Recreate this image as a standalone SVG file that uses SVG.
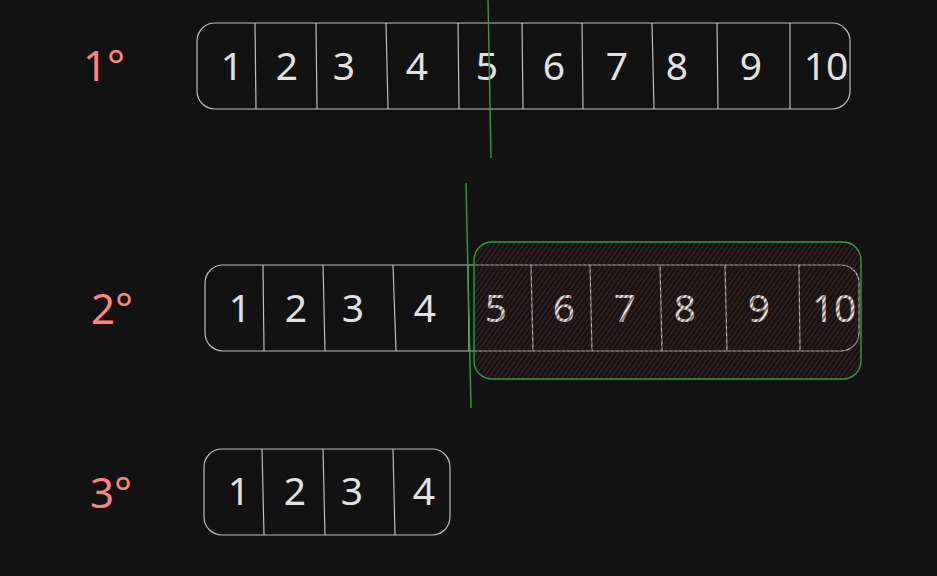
<svg xmlns="http://www.w3.org/2000/svg" width="937" height="576" viewBox="0 0 937 576">
<defs>
<pattern id="hatch" patternUnits="userSpaceOnUse" width="4" height="4" patternTransform="rotate(35)">
<line x1="1" y1="0" x2="1" y2="4" stroke="#4a2222" stroke-width="1.4" stroke-opacity="0.8"/>
</pattern>
<style>
.box{fill:none;stroke:#bdbdbd;stroke-width:1.2}
.div{stroke:#bdbdbd;stroke-width:1.2}
.num{font-family:"Noto Sans","Open Sans",sans-serif;font-size:39px;fill:#e2e2e2;text-anchor:middle}
.lbl{font-family:"Noto Sans","Open Sans",sans-serif;font-size:42px;fill:#ff8383;text-anchor:middle}
.cut{stroke:#2f9e44;stroke-width:1.4;fill:none}
</style>
</defs>
<rect width="937" height="576" fill="#121212"/>

<g id="label-1"><text class="lbl" x="104" y="81">1°</text></g>
<g id="label-2"><text class="lbl" x="112" y="324">2°</text></g>
<g id="label-3"><text class="lbl" x="111" y="508">3°</text></g>

<g id="row-1">
<rect class="box" x="197" y="23" width="653" height="86" rx="18"/>
<line class="div" x1="255" y1="23" x2="256" y2="109"/>
<line class="div" x1="316" y1="23" x2="317" y2="109"/>
<line class="div" x1="386" y1="23" x2="388" y2="109"/>
<line class="div" x1="458" y1="23" x2="459" y2="109"/>
<line class="div" x1="522" y1="23" x2="523" y2="109"/>
<line class="div" x1="582" y1="23" x2="583" y2="109"/>
<line class="div" x1="652" y1="23" x2="654" y2="109"/>
<line class="div" x1="717" y1="23" x2="718" y2="109"/>
<line class="div" x1="790" y1="23" x2="790" y2="109"/>
<text class="num" x="232" y="80">1</text>
<text class="num" x="287" y="80">2</text>
<text class="num" x="344" y="80">3</text>
<text class="num" x="417" y="80">4</text>
<text class="num" x="487" y="80">5</text>
<text class="num" x="554" y="80">6</text>
<text class="num" x="617" y="80">7</text>
<text class="num" x="677" y="80">8</text>
<text class="num" x="751" y="80">9</text>
<text class="num" x="826" y="80">10</text>
</g>

<g id="row-2">
<rect class="box" x="205" y="265" width="654" height="86" rx="18"/>
<line class="div" x1="263" y1="265" x2="264" y2="351"/>
<line class="div" x1="323" y1="265" x2="325" y2="351"/>
<line class="div" x1="393" y1="265" x2="396" y2="351"/>
<line class="div" x1="468" y1="265" x2="469" y2="351"/>
<line class="div" x1="531" y1="265" x2="533" y2="351"/>
<line class="div" x1="590" y1="265" x2="592" y2="351"/>
<line class="div" x1="660" y1="265" x2="662" y2="351"/>
<line class="div" x1="725" y1="265" x2="727" y2="351"/>
<line class="div" x1="799" y1="265" x2="800" y2="351"/>
<text class="num" x="240" y="322">1</text>
<text class="num" x="296" y="322">2</text>
<text class="num" x="353" y="322">3</text>
<text class="num" x="425" y="322">4</text>
<text class="num" x="496" y="322">5</text>
<text class="num" x="564" y="322">6</text>
<text class="num" x="625" y="322">7</text>
<text class="num" x="685" y="322">8</text>
<text class="num" x="759" y="322">9</text>
<text class="num" x="834" y="322">10</text>
</g>

<g id="selection">
<rect x="474" y="242" width="387" height="137" rx="18" fill="url(#hatch)" stroke="#2f9e44" stroke-width="1.4"/>
</g>

<g id="row-3">
<rect class="box" x="204" y="449" width="246" height="86" rx="18"/>
<line class="div" x1="262" y1="449" x2="264" y2="535"/>
<line class="div" x1="323" y1="449" x2="325" y2="535"/>
<line class="div" x1="393" y1="449" x2="395" y2="535"/>
<text class="num" x="239" y="505">1</text>
<text class="num" x="295" y="505">2</text>
<text class="num" x="352" y="505">3</text>
<text class="num" x="424" y="505">4</text>
</g>

<g id="connectors">
<line class="cut" x1="488" y1="0" x2="491" y2="158"/>
<line class="cut" x1="466" y1="183" x2="471" y2="408"/>
</g>
</svg>
